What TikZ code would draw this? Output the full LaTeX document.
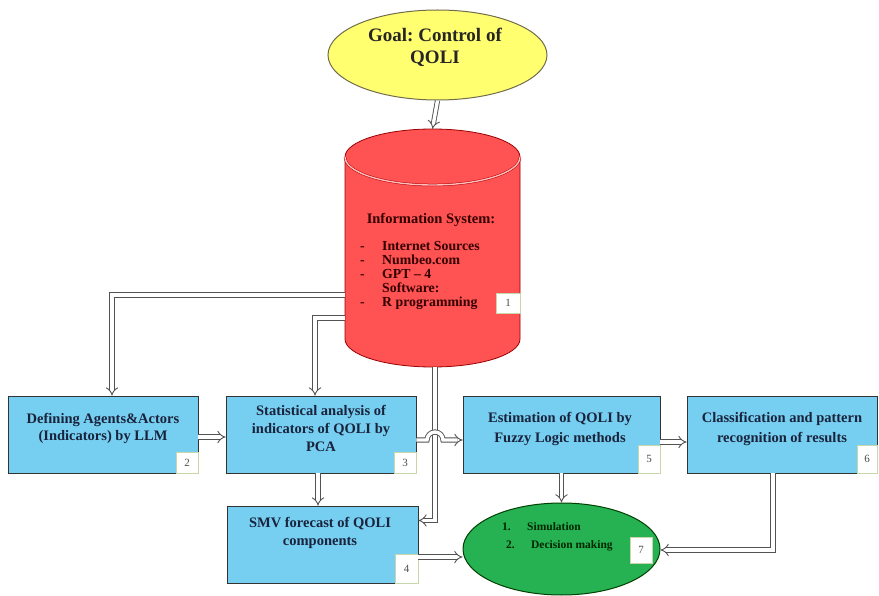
\documentclass[tikz,border=0pt]{standalone}
\usepackage{fontspec}
\setmainfont{Liberation Serif}
\frenchspacing
\usetikzlibrary{arrows.meta,shapes.geometric,calc}
\definecolor{boxblue}{RGB}{118,206,240}
\definecolor{goalyellow}{RGB}{255,255,112}
\definecolor{cylred}{RGB}{255,82,82}
\definecolor{ellgreen}{RGB}{38,178,82}
\definecolor{numgreen}{RGB}{200,215,170}
\definecolor{textnavy}{RGB}{25,35,60}
\begin{document}
\begin{tikzpicture}[x=1pt,y=-1pt,
  arr/.style={draw=gray!65!black, line width=0.9pt, double=white, double distance=3.4pt, -{Implies[length=5pt, width=10pt]}},
  bbox/.style={draw=black!80, line width=0.8pt, fill=boxblue, minimum width=190pt, minimum height=77pt, inner sep=0pt},
  numbox/.style={draw=numgreen, fill=white, line width=0.8pt, minimum width=22pt, minimum height=21pt, inner sep=0pt, font=\fontsize{11}{11}\selectfont, text=black!70},
  btext/.style={align=center, inner sep=0pt, font=\fontsize{14.5}{18}\selectfont\bfseries, text=textnavy}]
\useasboundingbox (0,0) rectangle (879,596);

% goal ellipse
\node[ellipse, draw=olive!40!black!80, fill=goalyellow, line width=1pt, minimum width=219pt, minimum height=90pt, inner sep=0pt] (goal) at (437.5,55) {};
\node[align=center, inner sep=0pt, font=\fontsize{19}{22}\selectfont\bfseries, text=black!85] (goaltxt) at (435,47) {Goal: Control of\\QOLI};

% cylinder
\node[minimum width=175pt, minimum height=238pt, inner sep=0pt] (cyl) at (432.5,248) {};
\fill[cylred, draw=red!60!black, line width=0.8pt] (345,157) -- (345,339) arc[start angle=180, end angle=0, x radius=87.5, y radius=28] -- (520,157) arc[start angle=0, end angle=-180, x radius=87.5, y radius=28] -- cycle;
\draw[draw=red!70!black, double=red!25!white, double distance=1.4pt, line width=0.5pt] (345,157) arc[start angle=180, end angle=0, x radius=87.5, y radius=28];
\node[inner sep=0pt, font=\fontsize{14.5}{15}\selectfont\bfseries, text=red!20!black] (cyltitle) at (431,220) {Information System:};
\node[anchor=north west, align=left, inner sep=0pt, font=\fontsize{13.8}{14}\selectfont\bfseries, text=red!20!black] (cyllist) at (360,241)
{\makebox[22pt][l]{-}Internet Sources\\
 \makebox[22pt][l]{-}Numbeo.com\\
 \makebox[22pt][l]{-}GPT -- 4\\
 \makebox[22pt][l]{}Software:\\
 \makebox[22pt][l]{-}R programming};
\node[numbox, minimum height=20pt, minimum width=24pt] (n1) at (508,303) {1};

% blue boxes
\node[bbox] (b2) at (103,434.5) {};
\node[bbox] (b3) at (321,434.5) {};
\node[bbox, minimum width=197pt] (b5) at (561.5,434.5) {};
\node[bbox] (b6) at (782,434.5) {};
\node[bbox, minimum width=191pt, minimum height=77pt] (b4) at (322.5,544.5) {};

\node[btext, font=\fontsize{14.5}{17}\selectfont\bfseries] (t2) at (103,428) {Defining Agents\&Actors\\(Indicators) by LLM};
\node[btext] (t3) at (321,428) {Statistical analysis of\\indicators of QOLI by\\PCA};
\node[btext, font=\fontsize{14.5}{20}\selectfont\bfseries] (t5) at (560,429) {Estimation of QOLI by\\Fuzzy Logic methods};
\node[btext, font=\fontsize{14.5}{20}\selectfont\bfseries] (t6) at (782,429) {Classification and pattern\\recognition of results};
\node[btext] (t4) at (320,533) {SMV forecast of QOLI\\components};

\node[numbox, anchor=south east] (n2) at (b2.south east) {2};
\node[numbox, anchor=south east] (n3) at (b3.south east) {3};
\node[numbox, anchor=south east, minimum height=28pt] (n5) at (b5.south east) {5};
\node[numbox, anchor=south east, minimum width=20pt, minimum height=28pt] (n6) at (b6.south east) {6};
\node[numbox, anchor=south east, minimum width=23pt, minimum height=29pt] (n4) at (b4.south east) {4};

% green ellipse
\node[ellipse, draw=green!25!black, fill=ellgreen, line width=1pt, minimum width=197pt, minimum height=92pt, inner sep=0pt] (green) at (561.5,549) {};
\node[anchor=west, inner sep=0pt, font=\fontsize{11.5}{18}\selectfont\bfseries, text=green!15!black, align=left] (gtxt) at (502,537)
{\makebox[25pt][l]{1.}Simulation\\\hspace{4pt}\makebox[25pt][l]{2.}Decision making};
\node[numbox, minimum width=22pt, minimum height=26pt] (n7) at (641,550) {7};

% connectors
\coordinate (p4) at ([yshift=-12.5pt]b4.east);
\coordinate (hopL) at (427,440);
\draw[arr] (goal.south) -- (cyl.north);
\draw[arr] ([yshift=-47pt]cyl.west) -| ([xshift=9pt]b2.north);
\draw[arr] ([yshift=-70pt]cyl.west) -| ([xshift=-6pt]b3.north);
\draw[arr] ([yshift=-2.5pt]b2.east) -- ([yshift=-2.5pt]b3.west);
\draw[arr] ([xshift=2.5pt]cyl.south) |- ([yshift=24pt]b4.east);
\draw[arr] ([yshift=-5.5pt]b3.east) -- (hopL) arc[start angle=180, end angle=360, radius=8] -- ([yshift=-5.5pt]b5.west);
\draw[arr] ([xshift=-3pt]b3.south) -- ([xshift=-4.5pt]b4.north);
\draw[arr] (p4) -- (green.west |- p4);
\draw[arr] (b5.south) -- (green.north);
\draw[arr] ([yshift=-7.5pt]b5.east) -- ([yshift=-7.5pt]b6.west);
\draw[arr] ([xshift=-9pt]b6.south) |- ([yshift=-1pt]green.east);
\end{tikzpicture}
\end{document}
